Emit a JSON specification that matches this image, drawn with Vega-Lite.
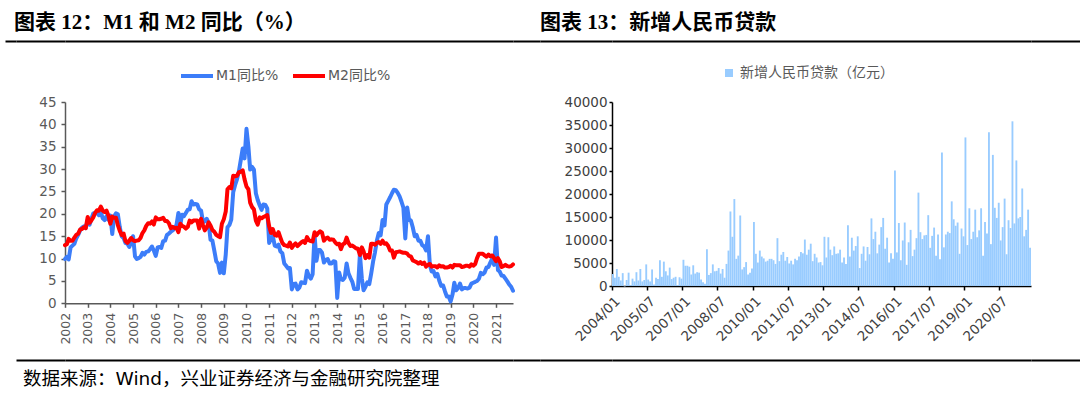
{
"$schema":"https://vega.github.io/schema/vega-lite/v6.json",
"background":"white",
"padding":{"left":5,"top":12,"right":0,"bottom":6},
"config":{"view":{"stroke":null},"axis":{"grid":false}},
"resolve":{"scale":{"color":"independent"},"legend":{"color":"independent"}},
"datasets":{
"money":[
{"d":"2002-01-01","a":9.9,"b":13.0},{"d":"2002-02-01","a":10.4,"b":13.2},{"d":"2002-03-01","a":9.8,"b":14.4},{"d":"2002-04-01","a":12.5,"b":14.0},{"d":"2002-05-01","a":12.9,"b":14.0},{"d":"2002-06-01","a":13.3,"b":14.7},{"d":"2002-07-01","a":14.5,"b":15.3},{"d":"2002-08-01","a":15.3,"b":15.6},{"d":"2002-09-01","a":16.3,"b":16.5},{"d":"2002-10-01","a":16.9,"b":16.6},{"d":"2002-11-01","a":17.2,"b":17.0},{"d":"2002-12-01","a":16.8,"b":16.8},
{"d":"2003-01-01","a":18.6,"b":19.3},{"d":"2003-02-01","a":17.6,"b":18.0},{"d":"2003-03-01","a":18.8,"b":18.5},{"d":"2003-04-01","a":20.1,"b":19.2},{"d":"2003-05-01","a":20.2,"b":20.2},{"d":"2003-06-01","a":20.2,"b":20.8},{"d":"2003-07-01","a":19.7,"b":20.7},{"d":"2003-08-01","a":20.4,"b":21.6},{"d":"2003-09-01","a":19.0,"b":20.7},{"d":"2003-10-01","a":18.6,"b":20.4},{"d":"2003-11-01","a":19.5,"b":20.7},{"d":"2003-12-01","a":18.7,"b":19.6},
{"d":"2004-01-01","a":19.6,"b":17.8},{"d":"2004-02-01","a":15.5,"b":19.4},{"d":"2004-03-01","a":19.4,"b":19.1},{"d":"2004-04-01","a":20.1,"b":19.1},{"d":"2004-05-01","a":19.9,"b":17.5},{"d":"2004-06-01","a":17.0,"b":16.2},{"d":"2004-07-01","a":15.0,"b":15.3},{"d":"2004-08-01","a":14.6,"b":15.6},{"d":"2004-09-01","a":13.5,"b":13.9},{"d":"2004-10-01","a":13.3,"b":13.5},{"d":"2004-11-01","a":12.6,"b":14.0},{"d":"2004-12-01","a":13.6,"b":14.6},
{"d":"2005-01-01","a":15.0,"b":14.1},{"d":"2005-02-01","a":10.5,"b":13.9},{"d":"2005-03-01","a":9.9,"b":14.0},{"d":"2005-04-01","a":10.1,"b":14.1},{"d":"2005-05-01","a":10.4,"b":14.6},{"d":"2005-06-01","a":11.3,"b":15.7},{"d":"2005-07-01","a":10.9,"b":16.3},{"d":"2005-08-01","a":11.5,"b":17.3},{"d":"2005-09-01","a":11.6,"b":17.9},{"d":"2005-10-01","a":12.1,"b":17.8},{"d":"2005-11-01","a":12.7,"b":18.3},{"d":"2005-12-01","a":11.8,"b":17.6},
{"d":"2006-01-01","a":10.6,"b":19.2},{"d":"2006-02-01","a":12.5,"b":18.8},{"d":"2006-03-01","a":12.6,"b":18.8},{"d":"2006-04-01","a":12.4,"b":18.9},{"d":"2006-05-01","a":13.9,"b":19.1},{"d":"2006-06-01","a":14.0,"b":18.4},{"d":"2006-07-01","a":15.3,"b":18.4},{"d":"2006-08-01","a":15.6,"b":17.9},{"d":"2006-09-01","a":16.0,"b":16.8},{"d":"2006-10-01","a":16.3,"b":17.1},{"d":"2006-11-01","a":16.8,"b":16.8},{"d":"2006-12-01","a":17.5,"b":16.9},
{"d":"2007-01-01","a":20.2,"b":15.9},{"d":"2007-02-01","a":17.6,"b":17.8},{"d":"2007-03-01","a":19.8,"b":17.3},{"d":"2007-04-01","a":19.5,"b":17.1},{"d":"2007-05-01","a":20.2,"b":16.7},{"d":"2007-06-01","a":20.9,"b":17.1},{"d":"2007-07-01","a":21.0,"b":18.5},{"d":"2007-08-01","a":22.8,"b":18.1},{"d":"2007-09-01","a":22.1,"b":18.5},{"d":"2007-10-01","a":22.2,"b":18.5},{"d":"2007-11-01","a":22.1,"b":18.5},{"d":"2007-12-01","a":21.0,"b":16.7},
{"d":"2008-01-01","a":20.7,"b":18.9},{"d":"2008-02-01","a":18.2,"b":17.5},{"d":"2008-03-01","a":18.3,"b":16.3},{"d":"2008-04-01","a":18.9,"b":16.9},{"d":"2008-05-01","a":18.0,"b":18.1},{"d":"2008-06-01","a":14.2,"b":17.4},{"d":"2008-07-01","a":14.0,"b":16.4},{"d":"2008-08-01","a":11.8,"b":16.0},{"d":"2008-09-01","a":9.4,"b":15.3},{"d":"2008-10-01","a":8.9,"b":15.0},{"d":"2008-11-01","a":6.8,"b":14.8},{"d":"2008-12-01","a":9.1,"b":17.8},
{"d":"2009-01-01","a":6.7,"b":18.8},{"d":"2009-02-01","a":10.9,"b":20.5},{"d":"2009-03-01","a":17.0,"b":25.5},{"d":"2009-04-01","a":17.5,"b":26.0},{"d":"2009-05-01","a":18.7,"b":25.7},{"d":"2009-06-01","a":24.8,"b":28.5},{"d":"2009-07-01","a":26.4,"b":28.4},{"d":"2009-08-01","a":27.7,"b":28.5},{"d":"2009-09-01","a":29.5,"b":29.3},{"d":"2009-10-01","a":32.0,"b":29.4},{"d":"2009-11-01","a":34.6,"b":29.7},{"d":"2009-12-01","a":32.4,"b":27.7},
{"d":"2010-01-01","a":39.0,"b":26.1},{"d":"2010-02-01","a":35.0,"b":25.5},{"d":"2010-03-01","a":29.9,"b":22.5},{"d":"2010-04-01","a":30.5,"b":21.5},{"d":"2010-05-01","a":29.9,"b":21.0},{"d":"2010-06-01","a":24.6,"b":18.5},{"d":"2010-07-01","a":23.1,"b":17.6},{"d":"2010-08-01","a":21.9,"b":19.2},{"d":"2010-09-01","a":20.9,"b":19.0},{"d":"2010-10-01","a":22.1,"b":19.3},{"d":"2010-11-01","a":22.0,"b":19.5},{"d":"2010-12-01","a":21.2,"b":19.7},
{"d":"2011-01-01","a":13.5,"b":17.2},{"d":"2011-02-01","a":14.5,"b":15.7},{"d":"2011-03-01","a":15.0,"b":16.6},{"d":"2011-04-01","a":12.9,"b":15.3},{"d":"2011-05-01","a":12.7,"b":15.1},{"d":"2011-06-01","a":13.1,"b":15.9},{"d":"2011-07-01","a":11.6,"b":14.7},{"d":"2011-08-01","a":11.2,"b":13.5},{"d":"2011-09-01","a":8.9,"b":13.0},{"d":"2011-10-01","a":8.4,"b":12.9},{"d":"2011-11-01","a":7.8,"b":12.7},{"d":"2011-12-01","a":7.9,"b":13.6},
{"d":"2012-01-01","a":3.1,"b":12.4},{"d":"2012-02-01","a":4.3,"b":13.0},{"d":"2012-03-01","a":4.4,"b":13.4},{"d":"2012-04-01","a":3.1,"b":12.8},{"d":"2012-05-01","a":3.5,"b":13.2},{"d":"2012-06-01","a":4.7,"b":13.6},{"d":"2012-07-01","a":4.6,"b":13.9},{"d":"2012-08-01","a":4.5,"b":13.5},{"d":"2012-09-01","a":7.3,"b":14.8},{"d":"2012-10-01","a":6.1,"b":14.1},{"d":"2012-11-01","a":5.5,"b":13.9},{"d":"2012-12-01","a":6.5,"b":13.8},
{"d":"2013-01-01","a":15.3,"b":15.9},{"d":"2013-02-01","a":9.5,"b":15.2},{"d":"2013-03-01","a":11.9,"b":15.7},{"d":"2013-04-01","a":11.9,"b":16.1},{"d":"2013-05-01","a":11.3,"b":15.8},{"d":"2013-06-01","a":9.1,"b":14.0},{"d":"2013-07-01","a":9.7,"b":14.5},{"d":"2013-08-01","a":9.9,"b":14.7},{"d":"2013-09-01","a":8.9,"b":14.2},{"d":"2013-10-01","a":8.9,"b":14.3},{"d":"2013-11-01","a":9.4,"b":14.2},{"d":"2013-12-01","a":9.3,"b":13.6},
{"d":"2014-01-01","a":1.2,"b":13.2},{"d":"2014-02-01","a":6.9,"b":13.3},{"d":"2014-03-01","a":5.4,"b":12.1},{"d":"2014-04-01","a":5.2,"b":13.2},{"d":"2014-05-01","a":5.7,"b":13.4},{"d":"2014-06-01","a":8.9,"b":14.7},{"d":"2014-07-01","a":6.7,"b":13.5},{"d":"2014-08-01","a":5.7,"b":12.8},{"d":"2014-09-01","a":4.8,"b":12.9},{"d":"2014-10-01","a":3.2,"b":12.6},{"d":"2014-11-01","a":3.2,"b":12.3},{"d":"2014-12-01","a":3.2,"b":12.2},
{"d":"2015-01-01","a":11.0,"b":10.8},{"d":"2015-02-01","a":5.6,"b":12.5},{"d":"2015-03-01","a":2.9,"b":11.6},{"d":"2015-04-01","a":3.7,"b":10.1},{"d":"2015-05-01","a":4.7,"b":10.8},{"d":"2015-06-01","a":4.3,"b":10.2},{"d":"2015-07-01","a":6.6,"b":13.3},{"d":"2015-08-01","a":9.3,"b":13.3},{"d":"2015-09-01","a":11.4,"b":13.1},{"d":"2015-10-01","a":14.0,"b":13.5},{"d":"2015-11-01","a":15.7,"b":13.7},{"d":"2015-12-01","a":15.2,"b":13.3},
{"d":"2016-01-01","a":18.6,"b":14.0},{"d":"2016-02-01","a":17.4,"b":13.3},{"d":"2016-03-01","a":22.1,"b":13.4},{"d":"2016-04-01","a":22.9,"b":12.8},{"d":"2016-05-01","a":23.7,"b":11.8},{"d":"2016-06-01","a":24.6,"b":11.8},{"d":"2016-07-01","a":25.4,"b":10.2},{"d":"2016-08-01","a":25.3,"b":11.4},{"d":"2016-09-01","a":24.7,"b":11.5},{"d":"2016-10-01","a":23.9,"b":11.6},{"d":"2016-11-01","a":22.7,"b":11.4},{"d":"2016-12-01","a":21.4,"b":11.3},
{"d":"2017-01-01","a":14.5,"b":11.3},{"d":"2017-02-01","a":21.4,"b":11.1},{"d":"2017-03-01","a":18.8,"b":10.6},{"d":"2017-04-01","a":18.5,"b":10.5},{"d":"2017-05-01","a":17.0,"b":9.6},{"d":"2017-06-01","a":15.0,"b":9.4},{"d":"2017-07-01","a":15.3,"b":9.2},{"d":"2017-08-01","a":14.0,"b":8.9},{"d":"2017-09-01","a":14.0,"b":9.2},{"d":"2017-10-01","a":13.0,"b":8.8},{"d":"2017-11-01","a":12.7,"b":9.1},{"d":"2017-12-01","a":11.8,"b":8.2},
{"d":"2018-01-01","a":15.0,"b":8.6},{"d":"2018-02-01","a":8.5,"b":8.8},{"d":"2018-03-01","a":7.1,"b":8.2},{"d":"2018-04-01","a":7.2,"b":8.3},{"d":"2018-05-01","a":6.0,"b":8.3},{"d":"2018-06-01","a":6.6,"b":8.0},{"d":"2018-07-01","a":5.1,"b":8.5},{"d":"2018-08-01","a":3.9,"b":8.2},{"d":"2018-09-01","a":4.0,"b":8.3},{"d":"2018-10-01","a":2.7,"b":8.0},{"d":"2018-11-01","a":1.5,"b":8.0},{"d":"2018-12-01","a":1.5,"b":8.1},
{"d":"2019-01-01","a":0.4,"b":8.4},{"d":"2019-02-01","a":2.0,"b":8.0},{"d":"2019-03-01","a":4.6,"b":8.6},{"d":"2019-04-01","a":2.9,"b":8.5},{"d":"2019-05-01","a":3.4,"b":8.5},{"d":"2019-06-01","a":4.4,"b":8.5},{"d":"2019-07-01","a":3.1,"b":8.1},{"d":"2019-08-01","a":3.4,"b":8.2},{"d":"2019-09-01","a":3.4,"b":8.4},{"d":"2019-10-01","a":3.3,"b":8.4},{"d":"2019-11-01","a":3.5,"b":8.2},{"d":"2019-12-01","a":4.4,"b":8.7},
{"d":"2020-01-01","a":4.6,"b":8.4},{"d":"2020-02-01","a":4.8,"b":8.8},{"d":"2020-03-01","a":5.0,"b":10.1},{"d":"2020-04-01","a":5.5,"b":11.1},{"d":"2020-05-01","a":6.8,"b":11.1},{"d":"2020-06-01","a":6.5,"b":11.1},{"d":"2020-07-01","a":6.9,"b":10.7},{"d":"2020-08-01","a":8.0,"b":10.4},{"d":"2020-09-01","a":8.1,"b":10.9},{"d":"2020-10-01","a":9.1,"b":10.5},{"d":"2020-11-01","a":10.0,"b":10.7},{"d":"2020-12-01","a":8.6,"b":10.1},
{"d":"2021-01-01","a":14.7,"b":9.4},{"d":"2021-02-01","a":7.4,"b":10.1},{"d":"2021-03-01","a":7.1,"b":9.4},{"d":"2021-04-01","a":6.2,"b":8.1},{"d":"2021-05-01","a":6.1,"b":8.3},{"d":"2021-06-01","a":5.5,"b":8.6},{"d":"2021-07-01","a":4.9,"b":8.3},{"d":"2021-08-01","a":4.2,"b":8.2},{"d":"2021-09-01","a":3.7,"b":8.3},{"d":"2021-10-01","a":2.8,"b":8.7}
],
"loans":[
{"m":"2004/01","v":2600},{"m":"2004/02","v":1800},{"m":"2004/03","v":3700},{"m":"2004/04","v":2000},{"m":"2004/05","v":1200},{"m":"2004/06","v":2800},{"m":"2004/07","v":-100},{"m":"2004/08","v":1300},{"m":"2004/09","v":2900},{"m":"2004/10","v":200},{"m":"2004/11","v":1600},{"m":"2004/12","v":1000},
{"m":"2005/01","v":3000},{"m":"2005/02","v":1200},{"m":"2005/03","v":3700},{"m":"2005/04","v":1000},{"m":"2005/05","v":1300},{"m":"2005/06","v":4700},{"m":"2005/07","v":1400},{"m":"2005/08","v":1000},{"m":"2005/09","v":3600},{"m":"2005/10","v":300},{"m":"2005/11","v":1800},{"m":"2005/12","v":1500},
{"m":"2006/01","v":5600},{"m":"2006/02","v":2000},{"m":"2006/03","v":5300},{"m":"2006/04","v":3200},{"m":"2006/05","v":2300},{"m":"2006/06","v":4000},{"m":"2006/07","v":1500},{"m":"2006/08","v":1800},{"m":"2006/09","v":2000},{"m":"2006/10","v":200},{"m":"2006/11","v":1900},{"m":"2006/12","v":1600},
{"m":"2007/01","v":5700},{"m":"2007/02","v":4400},{"m":"2007/03","v":4400},{"m":"2007/04","v":4200},{"m":"2007/05","v":2500},{"m":"2007/06","v":4500},{"m":"2007/07","v":2700},{"m":"2007/08","v":3000},{"m":"2007/09","v":2900},{"m":"2007/10","v":1400},{"m":"2007/11","v":800},{"m":"2007/12","v":500},
{"m":"2008/01","v":8000},{"m":"2008/02","v":2400},{"m":"2008/03","v":2800},{"m":"2008/04","v":4700},{"m":"2008/05","v":3200},{"m":"2008/06","v":3300},{"m":"2008/07","v":3900},{"m":"2008/08","v":2700},{"m":"2008/09","v":3700},{"m":"2008/10","v":1800},{"m":"2008/11","v":4800},{"m":"2008/12","v":7700},
{"m":"2009/01","v":16200},{"m":"2009/02","v":10700},{"m":"2009/03","v":18900},{"m":"2009/04","v":5900},{"m":"2009/05","v":6600},{"m":"2009/06","v":15300},{"m":"2009/07","v":3600},{"m":"2009/08","v":4100},{"m":"2009/09","v":5200},{"m":"2009/10","v":2500},{"m":"2009/11","v":2900},{"m":"2009/12","v":3800},
{"m":"2010/01","v":13900},{"m":"2010/02","v":7000},{"m":"2010/03","v":5100},{"m":"2010/04","v":7700},{"m":"2010/05","v":6400},{"m":"2010/06","v":6000},{"m":"2010/07","v":5300},{"m":"2010/08","v":5500},{"m":"2010/09","v":5900},{"m":"2010/10","v":5900},{"m":"2010/11","v":5600},{"m":"2010/12","v":4800},
{"m":"2011/01","v":10400},{"m":"2011/02","v":5400},{"m":"2011/03","v":6800},{"m":"2011/04","v":7400},{"m":"2011/05","v":5500},{"m":"2011/06","v":6300},{"m":"2011/07","v":4900},{"m":"2011/08","v":5500},{"m":"2011/09","v":4700},{"m":"2011/10","v":5900},{"m":"2011/11","v":5600},{"m":"2011/12","v":6400},
{"m":"2012/01","v":7400},{"m":"2012/02","v":7100},{"m":"2012/03","v":10100},{"m":"2012/04","v":6800},{"m":"2012/05","v":7900},{"m":"2012/06","v":9200},{"m":"2012/07","v":5400},{"m":"2012/08","v":7000},{"m":"2012/09","v":6200},{"m":"2012/10","v":5100},{"m":"2012/11","v":5200},{"m":"2012/12","v":4500},
{"m":"2013/01","v":10700},{"m":"2013/02","v":6200},{"m":"2013/03","v":10600},{"m":"2013/04","v":7900},{"m":"2013/05","v":6700},{"m":"2013/06","v":8600},{"m":"2013/07","v":7000},{"m":"2013/08","v":7100},{"m":"2013/09","v":7900},{"m":"2013/10","v":5100},{"m":"2013/11","v":6200},{"m":"2013/12","v":4800},
{"m":"2014/01","v":13200},{"m":"2014/02","v":6400},{"m":"2014/03","v":10500},{"m":"2014/04","v":7700},{"m":"2014/05","v":8700},{"m":"2014/06","v":10800},{"m":"2014/07","v":3900},{"m":"2014/08","v":7000},{"m":"2014/09","v":8600},{"m":"2014/10","v":5500},{"m":"2014/11","v":8500},{"m":"2014/12","v":6900},
{"m":"2015/01","v":14700},{"m":"2015/02","v":10200},{"m":"2015/03","v":11800},{"m":"2015/04","v":7100},{"m":"2015/05","v":9000},{"m":"2015/06","v":12800},{"m":"2015/07","v":14800},{"m":"2015/08","v":8100},{"m":"2015/09","v":10500},{"m":"2015/10","v":5100},{"m":"2015/11","v":7100},{"m":"2015/12","v":5900},
{"m":"2016/01","v":25100},{"m":"2016/02","v":7300},{"m":"2016/03","v":13700},{"m":"2016/04","v":5600},{"m":"2016/05","v":9900},{"m":"2016/06","v":13800},{"m":"2016/07","v":4600},{"m":"2016/08","v":9500},{"m":"2016/09","v":12200},{"m":"2016/10","v":6500},{"m":"2016/11","v":7900},{"m":"2016/12","v":10400},
{"m":"2017/01","v":20300},{"m":"2017/02","v":11700},{"m":"2017/03","v":10200},{"m":"2017/04","v":11000},{"m":"2017/05","v":11100},{"m":"2017/06","v":15400},{"m":"2017/07","v":8300},{"m":"2017/08","v":10900},{"m":"2017/09","v":12700},{"m":"2017/10","v":6600},{"m":"2017/11","v":11200},{"m":"2017/12","v":5800},
{"m":"2018/01","v":29000},{"m":"2018/02","v":8400},{"m":"2018/03","v":11200},{"m":"2018/04","v":11800},{"m":"2018/05","v":11500},{"m":"2018/06","v":18400},{"m":"2018/07","v":14500},{"m":"2018/08","v":13100},{"m":"2018/09","v":13800},{"m":"2018/10","v":7000},{"m":"2018/11","v":12500},{"m":"2018/12","v":10800},
{"m":"2019/01","v":32300},{"m":"2019/02","v":8900},{"m":"2019/03","v":16900},{"m":"2019/04","v":10200},{"m":"2019/05","v":11800},{"m":"2019/06","v":16600},{"m":"2019/07","v":10600},{"m":"2019/08","v":12100},{"m":"2019/09","v":16900},{"m":"2019/10","v":6600},{"m":"2019/11","v":13900},{"m":"2019/12","v":11400},
{"m":"2020/01","v":33400},{"m":"2020/02","v":9100},{"m":"2020/03","v":28500},{"m":"2020/04","v":17000},{"m":"2020/05","v":14800},{"m":"2020/06","v":18100},{"m":"2020/07","v":9900},{"m":"2020/08","v":12800},{"m":"2020/09","v":19000},{"m":"2020/10","v":6900},{"m":"2020/11","v":14300},{"m":"2020/12","v":12600},
{"m":"2021/01","v":35800},{"m":"2021/02","v":13600},{"m":"2021/03","v":27300},{"m":"2021/04","v":14700},{"m":"2021/05","v":15000},{"m":"2021/06","v":21200},{"m":"2021/07","v":10800},{"m":"2021/08","v":12200},{"m":"2021/09","v":16600},{"m":"2021/10","v":8300}
]
},
"columns":7,
"spacing":{"row":56,"column":0},
"bounds":"flush",
"align":"none",
"concat":[
{"width":11,"height":4.7,
"title":{"text":"图表 12：M1 和 M2 同比（%）","anchor":"start","dx":9,"offset":8,"font":"Liberation Serif, Noto Sans CJK SC","fontSize":21,"fontWeight":"bold","color":"#000000"},
"data":{"values":[{}]},"mark":{"type":"rule","opacity":0},
"encoding":{"x":{"datum":0,"type":"quantitative","scale":{"domain":[0,1]},"axis":{"orient":"top","domainColor":"#000000","domainWidth":2,"ticks":false,"labels":false,"title":null,"grid":false}}}},
{"width":49,"height":4.7,"data":{"values":[{}]},"mark":{"type":"rule","opacity":0},
"encoding":{"x":{"datum":0,"type":"quantitative","scale":{"domain":[0,1]},"axis":{"orient":"top","domainColor":"#000000","domainWidth":2,"ticks":false,"labels":false,"title":null,"grid":false}}}},
{"width":448,"height":4.7,"data":{"values":[{}]},"mark":{"type":"rule","opacity":0},
"encoding":{"x":{"datum":0,"type":"quantitative","scale":{"domain":[0,1]},"axis":{"orient":"top","domainColor":"#000000","domainWidth":2,"ticks":false,"labels":false,"title":null,"grid":false}}}},
{"width":27,"height":4.7,"data":{"values":[{}]},"mark":{"type":"rule","opacity":0},
"encoding":{"x":{"datum":0,"type":"quantitative","scale":{"domain":[0,1]},"axis":{"orient":"top","domainColor":"#000000","domainWidth":2,"ticks":false,"labels":false,"title":null,"grid":false}}}},
{"width":72,"height":4.7,
"title":{"text":"图表 13：新增人民币贷款","anchor":"start","dx":0,"offset":8,"font":"Liberation Serif, Noto Sans CJK SC","fontSize":21,"fontWeight":"bold","color":"#000000"},
"data":{"values":[{}]},"mark":{"type":"rule","opacity":0},
"encoding":{"x":{"datum":0,"type":"quantitative","scale":{"domain":[0,1]},"axis":{"orient":"top","domainColor":"#000000","domainWidth":2,"ticks":false,"labels":false,"title":null,"grid":false}}}},
{"width":419,"height":4.7,"data":{"values":[{}]},"mark":{"type":"rule","opacity":0},
"encoding":{"x":{"datum":0,"type":"quantitative","scale":{"domain":[0,1]},"axis":{"orient":"top","domainColor":"#000000","domainWidth":2,"ticks":false,"labels":false,"title":null,"grid":false}}}},
{"width":49,"height":4.7,"data":{"values":[{}]},"mark":{"type":"rule","opacity":0},
"encoding":{"x":{"datum":0,"type":"quantitative","scale":{"domain":[0,1]},"axis":{"orient":"top","domainColor":"#000000","domainWidth":2,"ticks":false,"labels":false,"title":null,"grid":false}}}},

{"width":11,"height":1,"data":{"values":[{}]},"mark":{"type":"point","opacity":0,"size":1}},
{"width":49,"height":1,"data":{"values":[{}]},"mark":{"type":"point","opacity":0,"size":1}},
{"width":448,"height":201.3,
"data":{"name":"money"},
"transform":[{"fold":["a","b"],"as":["k","v"]}],
"mark":{"type":"line","strokeWidth":4,"strokeJoin":"round","strokeCap":"round"},
"encoding":{
"x":{"field":"d","type":"temporal","scale":{"type":"utc","domain":[{"year":2002,"month":1,"date":1,"utc":true},{"year":2021,"month":10,"date":1,"utc":true}],"nice":false},
"axis":{"title":null,"format":"%Y","tickCount":{"interval":"year","step":1},"labelAngle":-90,"labelFont":"DejaVu Sans","labelFontSize":12.5,"labelColor":"#595959","domainColor":"#595959","domainWidth":1.5,"tickColor":"#595959","tickSize":4,"tickWidth":1.5,"labelPadding":5,"labelOverlap":false,"labelFlush":false}},
"y":{"field":"v","type":"quantitative","scale":{"domain":[0,45],"nice":false},
"axis":{"title":null,"values":[0,5,10,15,20,25,30,35,40,45],"labelFont":"DejaVu Sans","labelFontSize":13.5,"labelColor":"#595959","domainColor":"#595959","domainWidth":1.5,"tickColor":"#595959","tickSize":4,"tickWidth":1.5,"labelPadding":5}},
"color":{"field":"k","type":"nominal","scale":{"domain":["a","b"],"range":["#3C7DF9","#FF0000"]},
"legend":{"orient":"none","legendX":114,"legendY":-44,"direction":"horizontal","title":null,"symbolType":"stroke","symbolSize":1024,"symbolStrokeWidth":4,"labelExpr":"datum.label == 'a' ? 'M1同比%' : 'M2同比%'","labelFont":"DejaVu Sans, Noto Sans CJK SC","labelFontSize":14,"labelColor":"#595959","columnPadding":6,"labelOffset":1}}
}},
{"width":27,"height":1,"data":{"values":[{}]},"mark":{"type":"point","opacity":0,"size":1}},
{"width":72,"height":1,"data":{"values":[{}]},"mark":{"type":"point","opacity":0,"size":1}},
{"width":419,"height":184,
"data":{"name":"loans"},
"mark":{"type":"bar"},
"encoding":{
"x":{"field":"m","type":"ordinal","scale":{"paddingInner":0.05,"paddingOuter":0},
"axis":{"title":null,"values":["2004/01","2005/07","2007/01","2008/07","2010/01","2011/07","2013/01","2014/07","2016/01","2017/07","2019/01","2020/07"],"bandPosition":0,"labelAngle":-45,"labelFont":"DejaVu Sans","labelFontSize":13.5,"labelColor":"#404040","domainColor":"#000000","domainWidth":1.5,"tickColor":"#000000","tickSize":4,"tickWidth":1.5,"labelPadding":4}},
"y":{"field":"v","type":"quantitative","scale":{"domain":[0,40000],"nice":false},
"axis":{"title":null,"values":[0,5000,10000,15000,20000,25000,30000,35000,40000],"format":"d","labelFont":"DejaVu Sans","labelFontSize":13.5,"labelColor":"#404040","domainColor":"#000000","domainWidth":1.5,"tickColor":"#000000","tickSize":3,"tickWidth":1.5,"labelPadding":2}},
"color":{"datum":"新增人民币贷款（亿元）","scale":{"range":["#99CCFF"]},
"legend":{"orient":"none","legendX":110,"legendY":-36,"title":null,"symbolType":"square","symbolSize":64,"labelFont":"Noto Sans CJK SC","labelFontSize":14,"labelColor":"#595959","labelOffset":4}}
}},
{"width":49,"height":1,"data":{"values":[{}]},"mark":{"type":"point","opacity":0,"size":1}},

{"width":11,"height":1,"data":{"values":[{}]},"mark":{"type":"point","opacity":0,"size":1}},
{"width":49,"height":1,
"title":{"text":"数据来源：Wind，兴业证券经济与金融研究院整理","orient":"bottom","anchor":"start","dx":7,"offset":9,"font":"DejaVu Sans, Noto Sans CJK SC","fontSize":18.5,"fontWeight":"normal","color":"#000000"},
"data":{"values":[{}]},"mark":{"type":"rule","opacity":0},
"encoding":{"x":{"datum":0,"type":"quantitative","scale":{"domain":[0,1]},"axis":{"orient":"top","domainColor":"#000000","domainWidth":2,"ticks":false,"labels":false,"title":null,"grid":false}}}},
{"width":448,"height":1,"data":{"values":[{}]},"mark":{"type":"rule","opacity":0},
"encoding":{"x":{"datum":0,"type":"quantitative","scale":{"domain":[0,1]},"axis":{"orient":"top","domainColor":"#000000","domainWidth":2,"ticks":false,"labels":false,"title":null,"grid":false}}}},
{"width":27,"height":1,"data":{"values":[{}]},"mark":{"type":"rule","opacity":0},
"encoding":{"x":{"datum":0,"type":"quantitative","scale":{"domain":[0,1]},"axis":{"orient":"top","domainColor":"#000000","domainWidth":2,"ticks":false,"labels":false,"title":null,"grid":false}}}},
{"width":72,"height":1,"data":{"values":[{}]},"mark":{"type":"rule","opacity":0},
"encoding":{"x":{"datum":0,"type":"quantitative","scale":{"domain":[0,1]},"axis":{"orient":"top","domainColor":"#000000","domainWidth":2,"ticks":false,"labels":false,"title":null,"grid":false}}}},
{"width":419,"height":1,"data":{"values":[{}]},"mark":{"type":"rule","opacity":0},
"encoding":{"x":{"datum":0,"type":"quantitative","scale":{"domain":[0,1]},"axis":{"orient":"top","domainColor":"#000000","domainWidth":2,"ticks":false,"labels":false,"title":null,"grid":false}}}},
{"width":49,"height":1,"data":{"values":[{}]},"mark":{"type":"rule","opacity":0},
"encoding":{"x":{"datum":0,"type":"quantitative","scale":{"domain":[0,1]},"axis":{"orient":"top","domainColor":"#000000","domainWidth":2,"ticks":false,"labels":false,"title":null,"grid":false}}}}
]
}
